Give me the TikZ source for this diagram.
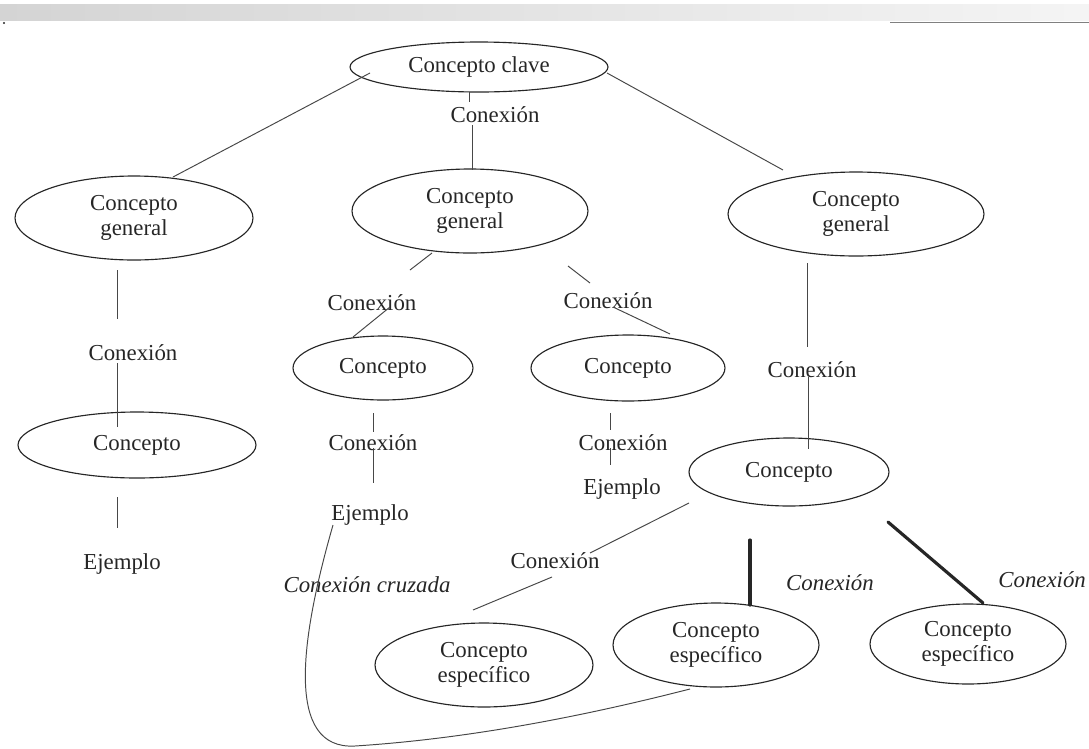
\documentclass[tikz,border=0pt]{standalone}
\usepackage{fontspec}
\setmainfont{Liberation Serif}
\usetikzlibrary{shapes.geometric}
\definecolor{tinta}{HTML}{262626}
\definecolor{escaner}{HTML}{D4D4D4}
\tikzset{
  concepto/.style={ellipse, draw=tinta, line width=0.65pt, inner sep=0pt, align=center,
                   text=tinta, font=\fontsize{13}{14}\selectfont},
  rotulo/.style={inner sep=1pt, text=tinta, font=\fontsize{13}{14}\selectfont},
  enlace/.style={draw=tinta!85, line width=0.55pt},
  enlacegrueso/.style={draw=tinta, line width=1.8pt, line cap=round},
}

\begin{document}
\begin{tikzpicture}[x=0.02cm, y=-0.02cm]
\useasboundingbox (0,0) rectangle (1089,748);
\clip (0,0) rectangle (1089,748);
% franja del escaner
\fill[left color=escaner, right color=escaner!25] (0,4) rectangle (1089,20);
\draw[gray, line width=0.5pt] (890,22) -- (1089,22);
\fill[tinta] (4,23) circle (1.2);

% conceptos
\node[concepto, minimum width=5.16cm, minimum height=1.0cm] (clave) at (479,67) {Concepto clave};
\node[concepto, minimum width=4.76cm, minimum height=1.68cm] (genL) at (134,218) {Concepto\\general};
\node[concepto, minimum width=4.72cm, minimum height=1.68cm] (genM) at (470,211) {Concepto\\general};
\node[concepto, minimum width=5.12cm, minimum height=1.68cm] (genR) at (856,214) {Concepto\\general};
\node[concepto, minimum width=4.76cm, minimum height=1.32cm] (conL) at (137,445) {Concepto};
\node[concepto, minimum width=3.6cm, minimum height=1.28cm] (conML) at (383,368) {Concepto};
\node[concepto, minimum width=3.88cm, minimum height=1.32cm] (conMR) at (628,368) {Concepto};
\node[concepto, minimum width=4.0cm, minimum height=1.36cm] (conR) at (789,472) {Concepto};
\node[concepto, minimum width=4.36cm, minimum height=1.68cm] (espL) at (484,665) {Concepto\\específico};
\node[concepto, minimum width=4.12cm, minimum height=1.68cm] (espM) at (716,645) {Concepto\\específico};
\node[concepto, minimum width=3.92cm, minimum height=1.6cm] (espR) at (968,644) {Concepto\\específico};

% rotulos
\node[rotulo] (cx0) at (495,115) {Conexión};
\node[rotulo] (cxL) at (133,353) {Conexión};
\node[rotulo] (exL) at (122,564) {Ejemplo};
\node[rotulo] (cxML) at (372,303) {Conexión};
\node[rotulo] (cxMR) at (608,301) {Conexión};
\node[rotulo] (cxML2) at (373,443) {Conexión};
\node[rotulo] (exML) at (370,515) {Ejemplo};
\node[rotulo] (cxMR2) at (623,443) {Conexión};
\node[rotulo] (exMR) at (622,489) {Ejemplo};
\node[rotulo] (cxR) at (812,370) {Conexión};
\node[rotulo] (cxE1) at (555,561) {Conexión};
\node[rotulo] (cxE2) at (830,583) {\itshape Conexión};
\node[rotulo, anchor=east] (cxE3) at (1088,580) {\itshape Conexión};
\node[rotulo] (cruz) at (367,585) {\itshape Conexión cruzada};

% enlaces
\draw[enlace] ([shift={(-109,6)}]clave.center) -- ([shift={(39,-41)}]genL.center);
\draw[enlace] ([shift={(128,6)}]clave.center) -- ([shift={(-73,-44)}]genR.center);
\draw[enlace] ([shift={(-10,25)}]clave.center) -- ([shift={(-26,-13)}]cx0.center);
\draw[enlace] ([shift={(-23,10)}]cx0.center) -- ([shift={(2,-41)}]genM.center);
\draw[enlace] ([shift={(-17,52)}]genL.center) -- ([shift={(-16,-34)}]cxL.center);
\draw[enlace] ([shift={(-16,10)}]cxL.center) -- ([shift={(-20,-18)}]conL.center);
\draw[enlace] ([shift={(-20,52)}]conL.center) -- ([shift={(-5,-36)}]exL.center);
\draw[enlace] ([shift={(-38,42)}]genM.center) -- ([shift={(38,-33)}]cxML.center);
\draw[enlace] ([shift={(18,4)}]cxML.center) -- ([shift={(-30,-31)}]conML.center);
\draw[enlace] ([shift={(98,55)}]genM.center) -- ([shift={(-18,-18)}]cxMR.center);
\draw[enlace] ([shift={(5,6)}]cxMR.center) -- ([shift={(42,-34)}]conMR.center);
\draw[enlace] ([shift={(-10,45)}]conML.center) -- ([shift={(0,-11)}]cxML2.center);
\draw[enlace] ([shift={(0,5)}]cxML2.center) -- ([shift={(3,-32)}]exML.center);
\draw[enlace] ([shift={(-18,45)}]conMR.center) -- ([shift={(-13,-13)}]cxMR2.center);
\draw[enlace] ([shift={(-13,5)}]cxMR2.center) -- ([shift={(-12,-24)}]exMR.center);
\draw[enlace] ([shift={(-49,49)}]genR.center) -- ([shift={(-5,-23)}]cxR.center);
\draw[enlace] ([shift={(-4,7)}]cxR.center) -- ([shift={(19,-23)}]conR.center);
\draw[enlace] ([shift={(-100,31)}]conR.center) -- ([shift={(35,-8)}]cxE1.center);
\draw[enlace] ([shift={(-3,16)}]cxE1.center) -- ([shift={(-11,-55)}]espL.center);
\draw[enlacegrueso] ([shift={(-39,68)}]conR.center) -- ([shift={(34,-40)}]espM.center);
\draw[enlacegrueso] ([shift={(99,50)}]conR.center) -- ([shift={(15,-41)}]espR.center);
% conexion cruzada
\draw[enlace] ([shift={(-37,10)}]exML.center) .. controls (300,640) and (285,750) .. (355,746)
  .. controls (480,738) and (600,712) .. ([shift={(-26,44)}]espM.center);
\end{tikzpicture}
\end{document}
